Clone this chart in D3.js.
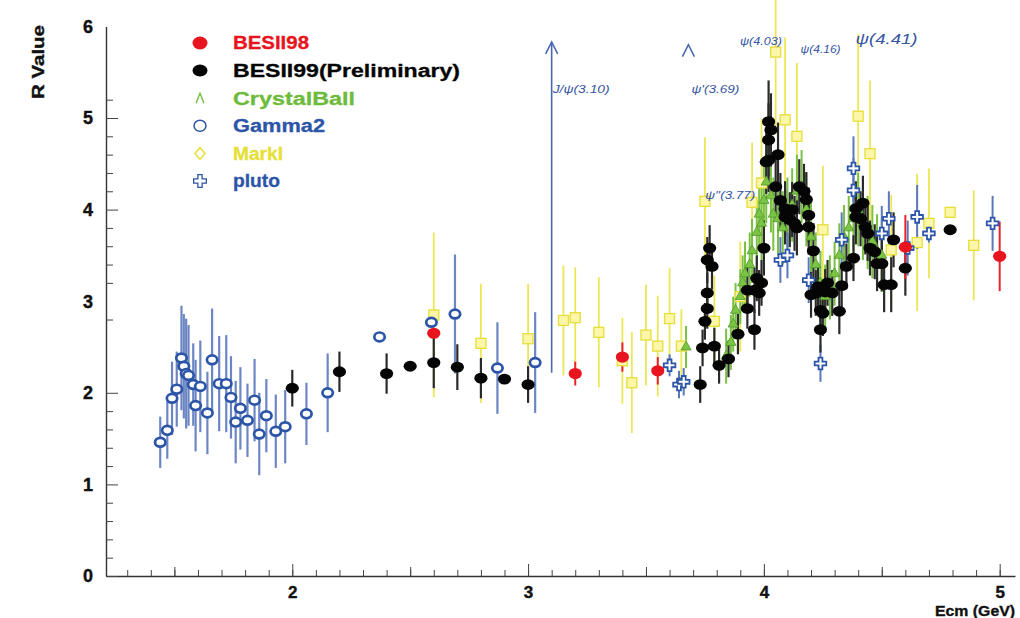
<!DOCTYPE html>
<html><head><meta charset="utf-8">
<script src="https://cdn.jsdelivr.net/npm/d3@7"></script>
<style>
html,body{margin:0;padding:0;background:#fff;}
text{font-family:"Liberation Sans",Arial,sans-serif;}
</style></head>
<body><svg id="c" width="1020" height="618"></svg>
<script>
// ---- data: [Ecm, R, error] ----
const besii98 = [[2.60,2.65,0.04],[3.20,2.21,0.13],[3.40,2.39,0.16],[3.55,2.24,0.15],[4.60,3.59,0.35],[5.00,3.49,0.38]];
const besii99 = [[2.00,2.05,0.2],[2.20,2.23,0.22],[2.40,2.21,0.22],[2.50,2.29,0.03],[2.60,2.33,0.28],[2.70,2.28,0.25],[2.80,2.16,0.22],[2.90,2.15,0.03],[3.00,2.09,0.2],
 [3.73,2.09,0.2],[3.74,2.49,0.2],[3.75,2.78,0.2],[3.76,2.92,0.22],[3.76,3.09,0.22],[3.76,3.45,0.25],[3.77,3.58,0.25],[3.78,3.38,0.25],[3.79,2.51,0.2],[3.81,2.30,0.2],
 [3.85,2.37,0.2],[3.89,2.64,0.22],[3.93,2.92,0.22],[3.93,3.12,0.25],[3.96,2.69,0.22],[3.96,3.12,0.25],[3.97,3.25,0.25],[3.98,3.09,0.25],[3.99,3.20,0.25],
 [4.00,3.58,0.3],[4.01,4.52,0.35],[4.02,4.96,0.45],[4.02,4.76,0.4],[4.03,4.87,0.4],[4.02,4.54,0.35],[4.05,4.25,0.35],[4.06,4.60,0.35],[4.07,4.10,0.3],
 [4.09,4.01,0.3],[4.09,3.92,0.3],[4.11,3.89,0.3],[4.12,4.00,0.3],[4.13,3.85,0.3],[4.14,3.80,0.3],[4.15,4.25,0.3],[4.17,4.20,0.3],[4.18,4.11,0.3],[4.19,3.94,0.3],
 [4.19,3.81,0.3],[4.21,3.55,0.3],[4.20,3.07,0.25],[4.22,3.09,0.25],[4.23,3.16,0.25],[4.24,2.90,0.25],[4.24,2.69,0.25],[4.25,2.87,0.25],[4.26,3.10,0.25],
 [4.27,3.20,0.25],[4.29,3.09,0.25],[4.32,2.89,0.25],[4.33,3.17,0.25],[4.35,3.38,0.25],[4.38,3.47,0.25],[4.39,3.92,0.3],[4.39,4.01,0.3],[4.41,3.90,0.3],
 [4.42,4.07,0.3],[4.43,3.81,0.3],[4.44,3.74,0.3],[4.45,3.58,0.3],[4.47,3.54,0.3],[4.48,3.41,0.3],[4.50,3.41,0.3],[4.51,3.18,0.3],[4.54,3.18,0.3],
 [4.55,3.67,0.3],[4.60,3.36,0.3],[4.79,3.78,0.03]];
const crystalBall = [[3.67,2.50,0.23],[3.84,2.40,0.3],[3.86,2.55,0.3],[3.87,2.75,0.3],[3.88,2.90,0.3],[3.90,3.05,0.3],[3.91,3.20,0.3],[3.92,3.30,0.35],
 [3.94,3.40,0.35],[3.95,3.55,0.35],[3.97,3.75,0.35],[3.98,3.95,0.4],[3.99,3.85,0.4],[4.00,4.10,0.4],[4.01,4.30,0.45],[4.03,4.15,0.4],[4.04,3.95,0.4],
 [4.06,3.90,0.4],[4.08,3.80,0.4],[4.10,3.95,0.4],[4.12,4.05,0.4],[4.14,4.20,0.4],[4.16,4.25,0.4],[4.18,4.00,0.4],[4.20,3.70,0.4],[4.22,3.40,0.35],
 [4.24,3.20,0.35],[4.26,3.05,0.35],[4.28,3.15,0.35],[4.30,3.30,0.35],[4.32,3.50,0.35],[4.34,3.70,0.35],[4.36,3.80,0.35],[4.38,3.90,0.35],[4.40,4.00,0.4],
 [4.42,3.85,0.4],[4.44,3.75,0.4],[4.46,3.65,0.4],[4.48,3.55,0.4],[4.50,3.50,0.4]];
const gamma2 = [[1.44,1.46,0.28],[1.47,1.59,0.31],[1.49,1.94,0.4],[1.51,2.04,0.41],[1.53,2.38,0.57],[1.54,2.29,0.57],[1.55,2.21,0.6],[1.56,2.19,0.55],
 [1.58,2.09,0.45],[1.59,1.86,0.5],[1.61,2.07,0.5],[1.64,1.78,0.45],[1.66,2.36,0.56],[1.69,2.10,0.52],[1.72,2.10,0.53],[1.74,1.95,0.45],[1.76,1.68,0.45],
 [1.78,1.83,0.45],[1.81,1.70,0.4],[1.84,1.92,0.45],[1.86,1.55,0.45],[1.89,1.75,0.4],[1.93,1.58,0.4],[1.97,1.63,0.4],[2.06,1.77,0.34],[2.15,2.00,0.43],
 [2.37,2.61,0.03],[2.59,2.77,0.05],[2.69,2.86,0.65],[2.87,2.27,0.5],[3.03,2.33,0.55]];
const markI = [[2.60,2.85,0.9],[2.80,2.54,0.65],[3.00,2.59,0.6],[3.15,2.79,0.6],[3.20,2.82,0.55],[3.30,2.66,0.6],[3.40,2.35,0.47],[3.44,2.11,0.55],
 [3.50,2.63,0.55],[3.55,2.51,0.55],[3.60,2.81,0.55],[3.65,2.51,0.4],[3.75,4.09,0.7],[3.79,2.78,0.5],[3.90,3.05,0.6],[3.95,4.08,0.65],[3.99,4.29,0.7],
 [4.05,5.72,0.9],[4.09,4.98,0.9],[4.14,4.80,0.8],[4.25,3.78,0.7],[4.40,5.02,0.9],[4.45,4.61,0.8],[4.54,3.56,0.6],[4.65,3.64,0.75],[4.70,3.85,0.6],
 [4.79,3.97,0.03],[4.89,3.61,0.6]];
const pluto = [[3.60,2.30,0.12],[3.64,2.09,0.15],[3.66,2.12,0.15],[4.07,3.45,0.25],[4.10,3.50,0.25],[4.19,3.23,0.25],[4.24,2.32,0.2],[4.33,3.67,0.3],
 [4.38,4.21,0.35],[4.38,4.45,0.35],[4.50,3.74,0.3],[4.53,3.90,0.3],[4.61,3.58,0.3],[4.65,3.92,0.35],[4.70,3.74,0.1],[4.97,3.85,0.3]];
const legendNames = ["BESII98","BESII99(Preliminary)","CrystalBall","Gamma2","MarkI","pluto"];
const xTickLabels = [2,3,4,5];
const yTickLabels = [0,1,2,3,4,5,6];
const yMinorTicks = [0.2,0.4,0.6,0.8,1.2,1.4,1.6,1.8,2.8,3.2,3.4,3.6,3.8,4.2,4.4,4.6,4.8,5.2];
const yMajorTicks = [0,1,2,4,5];
// resonance annotations: [label, Ecm, R of text]
const resonances = [["J/ψ(3.10)",3.10,5.27],["ψ'(3.69)",3.68,5.27],["ψ''(3.77)",3.76,4.12],["ψ(4.03)",4.03,5.80],["ψ(4.16)",4.16,5.71],["ψ(4.41)",4.41,5.81]];

const svg = d3.select("#c");
const x = d3.scaleLinear().domain([1.21,5.065]).range([106,1015]);
const y = d3.scaleLinear().domain([0,6]).range([576,26.4]);

// axes
const xMinor = d3.range(13,51).map(d=>d/10).filter(d=>d<=5.06);
svg.append("g").attr("transform","translate(0,576)")
  .call(d3.axisBottom(x).tickValues(xMinor).tickSizeInner(-6).tickSizeOuter(0).tickFormat(""))
  .call(g=>g.select(".domain").attr("stroke","#333").attr("stroke-width",1.4))
  .call(g=>g.selectAll(".tick line").attr("stroke","#444"));
svg.append("g").attr("transform","translate(0,576)")
  .call(d3.axisBottom(x).tickValues([1.5,2.5,3.5,4.5]).tickSizeInner(-9).tickSizeOuter(0).tickFormat(""))
  .call(g=>g.select(".domain").remove())
  .call(g=>g.selectAll(".tick line").attr("stroke","#444"));
svg.append("g").attr("transform","translate(0,576)")
  .call(d3.axisBottom(x).tickValues(xTickLabels).tickSizeInner(-12).tickSizeOuter(0).tickPadding(10).tickFormat(d3.format("d")))
  .call(g=>g.select(".domain").remove())
  .call(g=>g.selectAll(".tick line").attr("stroke","#444"))
  .call(g=>g.selectAll(".tick text").attr("font-size",17).attr("font-weight","bold").attr("fill","#111").attr("stroke","#111").attr("stroke-width",0.4));

svg.append("g").attr("transform","translate(106,0)")
  .call(d3.axisLeft(y).tickValues(yMinorTicks).tickSizeInner(-7).tickSizeOuter(0).tickFormat(""))
  .call(g=>g.select(".domain").attr("stroke","#333").attr("stroke-width",1.4))
  .call(g=>g.selectAll(".tick line").attr("stroke","#444"));
svg.append("g").attr("transform","translate(106,0)")
  .call(d3.axisLeft(y).tickValues(yMajorTicks).tickSizeInner(-12).tickSizeOuter(0).tickFormat(""))
  .call(g=>g.select(".domain").remove())
  .call(g=>g.selectAll(".tick line").attr("stroke","#444"));
svg.append("g").selectAll("text").data(yTickLabels).join("text")
  .attr("x",93).attr("y",d=>y(d)).attr("dy","0.36em").attr("text-anchor","end")
  .attr("font-size",18).attr("font-weight","bold").attr("fill","#111").attr("stroke","#111").attr("stroke-width",0.4).text(d=>d);

svg.append("text").attr("transform","translate(44,62) rotate(-90)").attr("text-anchor","middle")
  .attr("font-size",17).attr("font-weight","bold").attr("fill","#111").attr("stroke","#111").attr("stroke-width",0.4)
  .attr("textLength",74).attr("lengthAdjust","spacingAndGlyphs").text("R Value");
svg.append("text").attr("x",1015).attr("y",616).attr("text-anchor","end")
  .attr("font-size",15).attr("font-weight","bold").attr("fill","#111").attr("stroke","#111").attr("stroke-width",0.35)
  .attr("textLength",80).attr("lengthAdjust","spacingAndGlyphs").text("Ecm (GeV)");

// error bars
function errBars(data,color,w){
  svg.append("g").selectAll("line").data(data).join("line")
    .attr("x1",d=>x(d[0])).attr("x2",d=>x(d[0]))
    .attr("y1",d=>y(d[1]-d[2])).attr("y2",d=>y(d[1]+d[2]))
    .attr("stroke",color).attr("stroke-width",w);
}
errBars(markI,"#ece756",1.8);
errBars(crystalBall,"#79c043",2);
errBars(gamma2,"#6c86c4",2.2);
errBars(pluto,"#5a78bd",2);
errBars(besii99,"#2a2a2a",2.2);
errBars(besii98,"#e8232b",2);

// J/psi arrow and psi' chevron
const arrowCol = "#4a68b0";
svg.append("line").attr("x1",x(3.10)).attr("x2",x(3.10)).attr("y1",y(2.22)).attr("y2",y(5.83))
  .attr("stroke",arrowCol).attr("stroke-width",1.6);
function chevron(cx,cy){
  svg.append("path").attr("d",`M${cx-6},${cy+12}L${cx},${cy}L${cx+6},${cy+12}`)
    .attr("fill","none").attr("stroke",arrowCol).attr("stroke-width",1.6);
}
chevron(x(3.10),y(5.83));
chevron(x(3.68),y(5.8));

// markers
const gM = svg.append("g");
gM.selectAll(".mk").data(markI).join("rect")
  .attr("x",d=>x(d[0])-5).attr("y",d=>y(d[1])-5).attr("width",10).attr("height",10)
  .attr("fill","#fbf6a8").attr("stroke","#e6de3a").attr("stroke-width",1.3);
gM.selectAll(".cb").data(crystalBall).join("path")
  .attr("transform",d=>`translate(${x(d[0])},${y(d[1])})`)
  .attr("d",d3.symbol(d3.symbolTriangle,45))
  .attr("fill","#7cc444").attr("stroke","#4f9a2a").attr("stroke-width",0.8);
gM.selectAll(".g2").data(gamma2).join("ellipse")
  .attr("cx",d=>x(d[0])).attr("cy",d=>y(d[1])).attr("rx",5.2).attr("ry",4.4)
  .attr("fill","#fff").attr("stroke","#2c55a8").attr("stroke-width",2.7);
gM.selectAll(".pl").data(pluto).join("path")
  .attr("transform",d=>`translate(${x(d[0])},${y(d[1])})`)
  .attr("d",d3.symbol(d3.symbolCross,75))
  .attr("fill","#fff").attr("stroke","#2c55a8").attr("stroke-width",1.8);
gM.selectAll(".b99").data(besii99).join("ellipse")
  .attr("cx",d=>x(d[0])).attr("cy",d=>y(d[1])).attr("rx",6.6).attr("ry",5.4)
  .attr("fill","#050505");
gM.selectAll(".b98").data(besii98).join("ellipse")
  .attr("cx",d=>x(d[0])).attr("cy",d=>y(d[1])).attr("rx",6.6).attr("ry",5.6)
  .attr("fill","#e8141e");

// resonance labels
const resOffset = {"J/ψ(3.10)":1,"ψ'(3.69)":3,"ψ''(3.77)":-2,"ψ(4.03)":-31,"ψ(4.16)":-1,"ψ(4.41)":-5};
const resWidth = {"J/ψ(3.10)":57,"ψ'(3.69)":48,"ψ''(3.77)":50,"ψ(4.03)":42,"ψ(4.16)":40,"ψ(4.41)":62};
svg.append("g").selectAll("text").data(resonances).join("text")
  .attr("x",d=>x(d[1])+resOffset[d[0]])
  .attr("y",d=>y(d[2]))
  .attr("font-size",d=>d[0]==="ψ(4.41)"?15:11).attr("font-style","italic")
  .attr("font-family","DejaVu Sans, sans-serif")
  .attr("textLength",d=>resWidth[d[0]]).attr("lengthAdjust","spacingAndGlyphs")
  .attr("fill","#3454a4").text(d=>d[0]);

// legend
const legCols = ["#e8141e","#050505","#6dbb3a","#2c55a8","#e6e036","#2c55a8"];
const legWidths = [76,227,122,92,50,47];
const lg = svg.append("g");
legendNames.forEach((n,i)=>{
  const cy = 43 + i*27.6, cx = 200;
  if(i===0) lg.append("ellipse").attr("cx",cx).attr("cy",cy).attr("rx",7.5).attr("ry",6.5).attr("fill",legCols[0]);
  if(i===1) lg.append("ellipse").attr("cx",cx).attr("cy",cy).attr("rx",7.5).attr("ry",6).attr("fill",legCols[1]);
  if(i===2) lg.append("path").attr("d",`M${cx-4},${cy+5}L${cx},${cy-5}L${cx+4},${cy+5}`).attr("fill","none").attr("stroke",legCols[2]).attr("stroke-width",1.3);
  if(i===3) lg.append("ellipse").attr("cx",cx).attr("cy",cy).attr("rx",6).attr("ry",5.5).attr("fill","none").attr("stroke",legCols[3]).attr("stroke-width",1.5);
  if(i===4) lg.append("path").attr("d",`M${cx},${cy-6}L${cx+5},${cy}L${cx},${cy+6}L${cx-5},${cy}Z`).attr("fill","none").attr("stroke",legCols[4]).attr("stroke-width",1.5);
  if(i===5) lg.append("path").attr("transform",`translate(${cx},${cy})`).attr("d",d3.symbol(d3.symbolCross,90)).attr("fill","none").attr("stroke",legCols[5]).attr("stroke-width",1.3);
  lg.append("text").attr("x",233).attr("y",cy).attr("dy","0.36em").attr("font-size",18).attr("font-weight","bold")
    .attr("textLength",legWidths[i]).attr("lengthAdjust","spacingAndGlyphs")
    .attr("fill",legCols[i]).attr("stroke",legCols[i]).attr("stroke-width",0.3).text(n);
});
</script></body></html>
